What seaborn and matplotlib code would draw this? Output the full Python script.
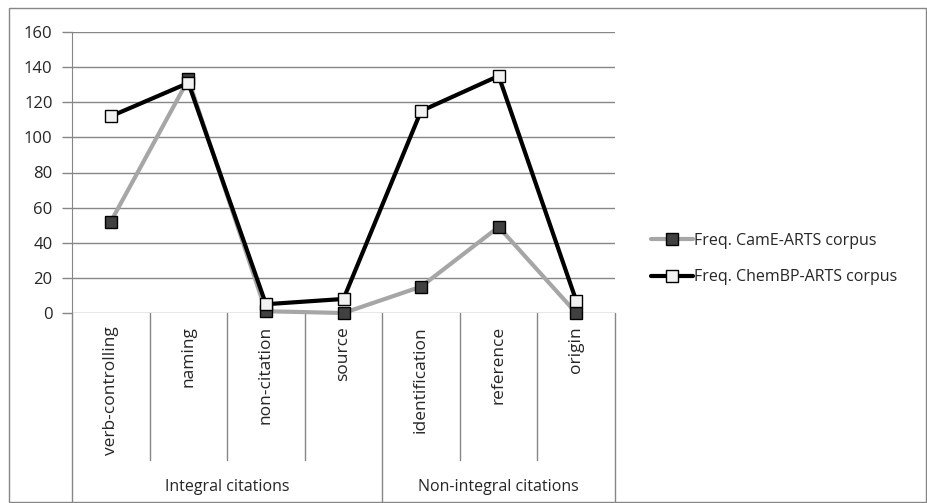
import numpy as np
import pandas as pd
import matplotlib
matplotlib.use("Agg")
import matplotlib.pyplot as plt
import matplotlib.transforms as mtransforms
from matplotlib.lines import Line2D
from matplotlib.patches import Rectangle
import seaborn as sns

# data
categories = ["verb-controlling", "naming", "non-citation", "source",
              "identification", "reference", "origin"]
groups = ["Integral citations", "Non-integral citations"]
group_sizes = [4, 3]
came_freq = [52, 133, 1, 0, 15, 49, 0]
chembp_freq = [112, 131, 5, 8, 115, 135, 7]
series_names = ["Freq. CamE-ARTS corpus", "Freq. ChemBP-ARTS corpus"]
y_ticks = [0, 20, 40, 60, 80, 100, 120, 140, 160]

sns.set_style("white")
plt.rcParams['font.family'] = ['Open Sans', 'DejaVu Sans']

df = pd.DataFrame({
    "pos": list(range(len(categories))) * 2,
    "freq": came_freq + chembp_freq,
    "series": [series_names[0]] * len(categories) + [series_names[1]] * len(categories),
})

W, H = 928, 503
fig = plt.figure(figsize=(W / 100, H / 100), dpi=100)
left, right, top, bottom = 72, 615, 32, 313
ax = fig.add_axes([left / W, 1 - bottom / H, (right - left) / W, (bottom - top) / H])

grid_col = "#868686"
line_cols = {series_names[0]: "#A6A6A6", series_names[1]: "#000000"}
face_cols = {series_names[0]: "#404040", series_names[1]: "#F2F2F2"}
lw = 3.0

for name in series_names:
    sub = df[df["series"] == name]
    sns.lineplot(data=sub, x="pos", y="freq", ax=ax, color=line_cols[name],
                 linewidth=lw, marker="s", markersize=9,
                 markerfacecolor=face_cols[name], markeredgecolor="black",
                 markeredgewidth=1.0, legend=False, clip_on=False, zorder=3)

n = len(categories)
ax.set_xlim(-0.5, n - 0.5)
ax.set_ylim(0, 160)
ax.set_yticks(y_ticks)
ax.set_yticklabels([str(v) for v in y_ticks], fontsize=12)
ax.set_xticks([])
ax.set_xlabel("")
ax.set_ylabel("")
for v in y_ticks:
    ax.axhline(v, color=grid_col, linewidth=1, zorder=1)
for s in ["top", "right", "bottom"]:
    ax.spines[s].set_visible(False)
ax.spines["left"].set_color(grid_col)
ax.tick_params(axis="y", length=7, color=grid_col, width=1, pad=7, left=True)

# category axis: dividers, labels, group labels
trans = mtransforms.blended_transform_factory(ax.transData, ax.transAxes)
ax_h = bottom - top
inner_end = -(460 - bottom) / ax_h
outer_end = -(501 - bottom) / ax_h
group_edges = np.cumsum([0] + group_sizes) - 0.5
for k in range(n + 1):
    xb = k - 0.5
    end = outer_end if xb in group_edges else inner_end
    ax.plot([xb, xb], [0, end], transform=trans, color=grid_col,
            linewidth=1, clip_on=False)
for i, c in enumerate(categories):
    ax.text(i, -(326 - bottom) / ax_h, c, transform=trans, rotation=90,
            ha="center", va="top", fontsize=12.5)
for g, a, b in zip(groups, group_edges[:-1], group_edges[1:]):
    ax.text((a + b) / 2, -(487 - bottom) / ax_h, g, transform=trans,
            ha="center", va="center", fontsize=11.5)

# legend
handles = [Line2D([0], [0], color=line_cols[s], linewidth=lw, marker="s",
                  markersize=9, markerfacecolor=face_cols[s],
                  markeredgecolor="black", markeredgewidth=1.0)
           for s in series_names]
fig.legend(handles, series_names, loc="center left",
           bbox_to_anchor=(643 / W, 1 - 259 / H), frameon=False,
           fontsize=11.5, handlelength=2.6, handletextpad=0.1,
           labelspacing=1.3, borderpad=0)

# outer chart border
fig.patches.append(Rectangle((9 / W, 1 / H), (926 - 9) / W, (494) / H,
                             transform=fig.transFigure, fill=False,
                             edgecolor=grid_col, linewidth=1))

fig.savefig("out.png", dpi=100)
